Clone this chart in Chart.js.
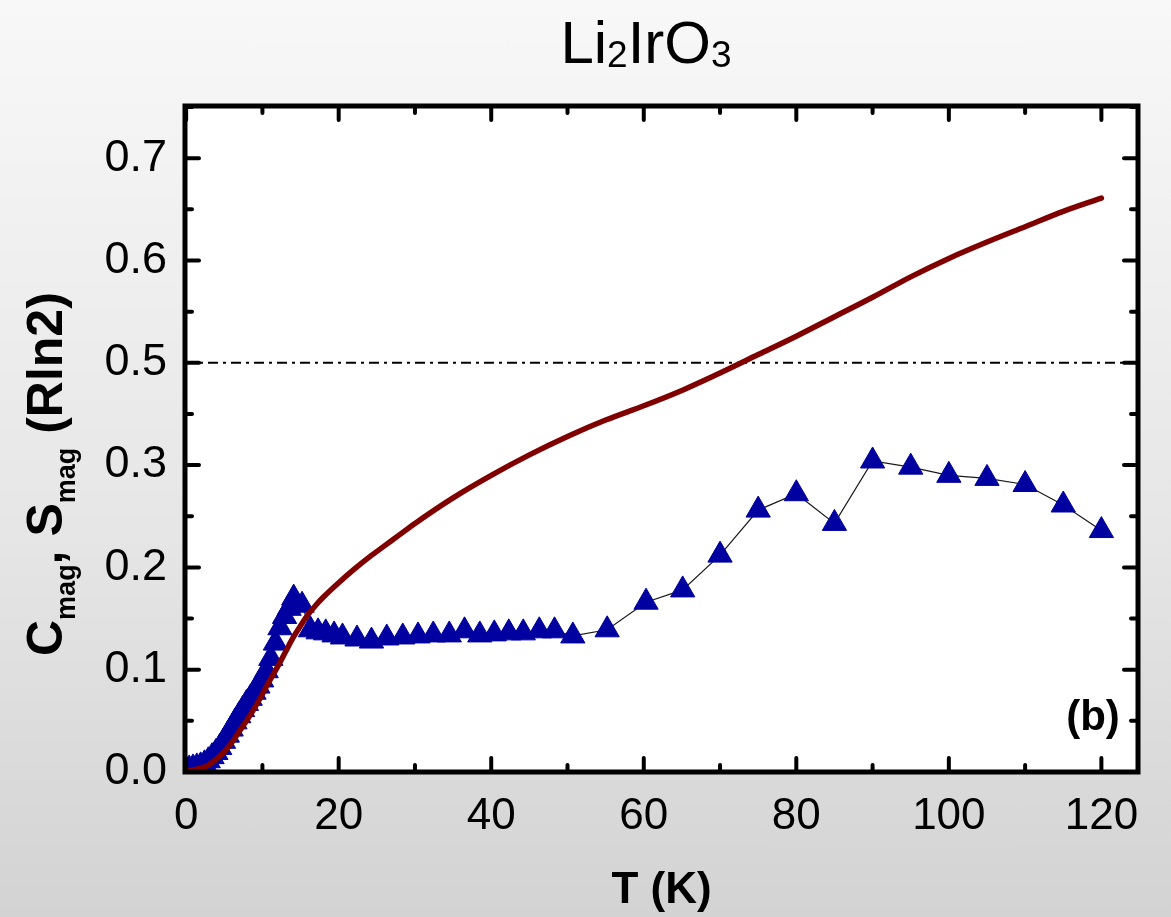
<!DOCTYPE html>
<html>
<head>
<meta charset="utf-8">
<script src="https://cdn.jsdelivr.net/npm/chart.js@4.4.0/dist/chart.umd.min.js"></script>
<style>
  html, body { margin: 0; padding: 0; }
  body {
    width: 1171px; height: 917px; overflow: hidden;
    background: linear-gradient(to bottom, #f8f8f8 0%, #e7e7e7 55%, #d3d3d3 100%);
  }
</style>
</head>
<body>
<canvas id="myChart" width="1171" height="917"></canvas>
<script>
// C_mag (triangles), temperature in K
const tempC = [0.4, 0.9, 1.4, 1.9, 2.4, 2.9, 3.4, 3.9, 4.4, 4.9, 5.4, 5.9, 6.4, 6.9, 7.4, 7.9,
  8.4, 8.9, 9.4, 9.9, 10.5, 11.1, 11.7, 12.3, 12.9, 13.5, 14.1, 15.2, 16.3, 17.3, 18.3, 19.4,
  20.5, 22.4, 24.3, 26.3, 28.4, 30.4, 32.4, 34.5, 36.5, 38.5, 40.4, 42.3, 44.2, 46.3, 48.3,
  50.7, 55.2, 60.3, 65.1, 70, 75, 80, 85, 90, 95, 100, 105, 110, 115, 120];
const cMag = [0.003, 0.004, 0.005, 0.006, 0.008, 0.011, 0.015, 0.019, 0.024, 0.030, 0.036, 0.042,
  0.049, 0.055, 0.061, 0.067, 0.072, 0.078, 0.084, 0.090, 0.099, 0.111, 0.126, 0.141, 0.152,
  0.160, 0.170, 0.163, 0.139, 0.137, 0.136, 0.134, 0.132, 0.130, 0.128, 0.131, 0.132, 0.133,
  0.134, 0.134, 0.138, 0.134, 0.135, 0.136, 0.136, 0.138, 0.138, 0.133, 0.139, 0.166, 0.178,
  0.212, 0.256, 0.272, 0.243, 0.304, 0.298, 0.290, 0.287, 0.281, 0.261, 0.236];

// S_mag (solid curve)
const tempS = [0, 1, 2, 3, 4, 5, 6, 7, 8, 9, 10, 11, 12, 13, 14, 15, 16, 17, 18, 20, 22, 24, 26,
  28, 30, 35, 40, 45, 50, 55, 60, 65, 70, 75, 80, 85, 90, 95, 100, 105, 110, 115, 120];
const sMag = [0.001, 0.002, 0.004, 0.007, 0.013, 0.020, 0.029, 0.040, 0.051, 0.063, 0.076, 0.090,
  0.103, 0.117, 0.131, 0.143, 0.154, 0.163, 0.171, 0.185, 0.198, 0.210, 0.221, 0.232, 0.243,
  0.268, 0.290, 0.310, 0.328, 0.344, 0.358, 0.373, 0.390, 0.408, 0.426, 0.445, 0.464, 0.484,
  0.502, 0.518, 0.533, 0.548, 0.561];

// tick values and the labels printed on them
const xTicks = [0, 20, 40, 60, 80, 100, 120];
const yTicks = [0, 0.1, 0.2, 0.3, 0.4, 0.5, 0.6];
const yTickLabels = ['0.0', '0.1', '0.2', '0.3', '0.5', '0.6', '0.7'];
const refLevel = 0.4;   // dash-dot line, at the "0.5" mark

const xMin = -0.15, xMax = 124.8, yMin = 0, yMax = 0.651;

const toXY = (xs, ys) => xs.map((x, i) => ({ x: x, y: ys[i] }));

// white plot area, inward ticks on all sides and the heavy frame
const framePlugin = {
  id: 'frame',
  beforeDatasetsDraw(chart) {
    const { ctx, chartArea: a } = chart;
    ctx.save();
    ctx.fillStyle = '#ffffff';
    ctx.fillRect(a.left, a.top, a.right - a.left, a.bottom - a.top);
    ctx.restore();
  },
  afterDatasetsDraw(chart) {
    const { ctx, chartArea: a, scales } = chart;
    ctx.save();
    ctx.strokeStyle = '#000';
    ctx.lineWidth = 4;
    ctx.lineCap = 'round';
    for (let t = 0; t <= 120; t += 10) {
      const px = scales.x.getPixelForValue(t);
      const len = t % 20 === 0 ? 14 : 7;
      ctx.beginPath();
      ctx.moveTo(px, a.bottom); ctx.lineTo(px, a.bottom - len);
      ctx.moveTo(px, a.top); ctx.lineTo(px, a.top + len);
      ctx.stroke();
    }
    for (let i = 0; i <= 13; i++) {
      const py = scales.y.getPixelForValue(i * 0.05);
      const len = i % 2 === 0 ? 14 : 7;
      ctx.beginPath();
      ctx.moveTo(a.left, py); ctx.lineTo(a.left + len, py);
      ctx.moveTo(a.right, py); ctx.lineTo(a.right - len, py);
      ctx.stroke();
    }
    ctx.lineCap = 'butt';
    ctx.lineWidth = 5;
    ctx.strokeRect(a.left, a.top, a.right - a.left, a.bottom - a.top);
    ctx.restore();
  },
  afterDraw(chart) {
    const { ctx } = chart;
    ctx.save();
    ctx.fillStyle = '#000';
    ctx.textBaseline = 'alphabetic';

    // title Li2IrO3 with subscripts
    const big = '60px "Liberation Sans", Arial, sans-serif';
    const small = '37px "Liberation Sans", Arial, sans-serif';
    const parts = [['Li', big, 0], ['2', small, 4], ['IrO', big, 0], ['3', small, 4]];
    let w = 0;
    parts.forEach(p => { ctx.font = p[1]; w += ctx.measureText(p[0]).width; });
    let x = 646 - w / 2;
    parts.forEach(p => {
      ctx.font = p[1];
      ctx.fillText(p[0], x, 63 + p[2]);
      x += ctx.measureText(p[0]).width;
    });

    // rotated y-axis title
    const bold = 'bold 50px "Liberation Sans", Arial, sans-serif';
    const sub = 'bold 27px "Liberation Sans", Arial, sans-serif';
    const yParts = [['C', bold, 0], ['mag', sub, 13], [', S', bold, 0], ['mag', sub, 13], [' (Rln2)', bold, 0]];
    ctx.translate(62, 656);
    ctx.rotate(-Math.PI / 2);
    let yx = 0;
    yParts.forEach(p => {
      ctx.font = p[1];
      ctx.fillText(p[0], yx, p[2]);
      yx += ctx.measureText(p[0]).width;
    });
    ctx.setTransform(1, 0, 0, 1, 0, 0);

    // panel label
    ctx.font = 'bold 42px "Liberation Sans", Arial, sans-serif';
    ctx.textAlign = 'center';
    ctx.textBaseline = 'middle';
    ctx.fillText('(b)', 1093, 718);
    ctx.restore();
  }
};

const ctx = document.getElementById('myChart').getContext('2d');
const myChart = new Chart(ctx, {
  type: 'line',
  data: {
    datasets: [
      {
        label: 'S_mag',
        data: toXY(tempS, sMag),
        borderColor: '#800000',
        borderWidth: 5.5,
        borderCapStyle: 'round',
        pointRadius: 0,
        cubicInterpolationMode: 'monotone',
        order: 0,
        clip: 0
      },
      {
        label: 'C_mag',
        data: toXY(tempC, cMag),
        borderColor: '#1a1a1a',
        borderWidth: 1.2,
        pointStyle: 'triangle',
        pointRadius: 14,
        pointBackgroundColor: '#0000a0',
        pointBorderColor: '#0000a0',
        pointBorderWidth: 1,
        order: 1,
        clip: 0
      },
      {
        label: 'ref',
        data: [{ x: xMin, y: refLevel }, { x: xMax, y: refLevel }],
        borderColor: '#000',
        borderWidth: 2,
        borderDash: [10, 5, 3, 5],
        pointRadius: 0,
        order: 2
      }
    ]
  },
  options: {
    responsive: false,
    animation: false,
    layout: { padding: { left: 0, right: 33, top: 106, bottom: 0 } },
    plugins: {
      legend: { display: false },
      title: { display: false },
      tooltip: { enabled: false }
    },
    scales: {
      x: {
        type: 'linear',
        min: xMin,
        max: xMax,
        afterBuildTicks: s => { s.ticks = xTicks.map(v => ({ value: v })); },
        afterFit: s => { s.height = 145; },
        grid: { display: false, drawTicks: false },
        border: { display: false },
        ticks: {
          color: '#000',
          padding: 18,
          maxRotation: 0,
          autoSkip: false,
          font: { family: '"Liberation Sans", Arial, sans-serif', size: 44 }
        },
        title: {
          display: true,
          text: 'T (K)',
          color: '#000',
          padding: { top: 6, bottom: 0 },
          font: { family: '"Liberation Sans", Arial, sans-serif', size: 44, weight: 'bold' }
        }
      },
      y: {
        type: 'linear',
        min: yMin,
        max: yMax,
        afterBuildTicks: s => { s.ticks = yTicks.map(v => ({ value: v })); },
        afterFit: s => { s.width = 185; },
        grid: { display: false, drawTicks: false },
        border: { display: false },
        ticks: {
          color: '#000',
          padding: 18,
          autoSkip: false,
          font: { family: '"Liberation Sans", Arial, sans-serif', size: 45 },
          callback: (value, index) => yTickLabels[index]
        }
      }
    }
  },
  plugins: [framePlugin]
});
</script>
</body>
</html>
